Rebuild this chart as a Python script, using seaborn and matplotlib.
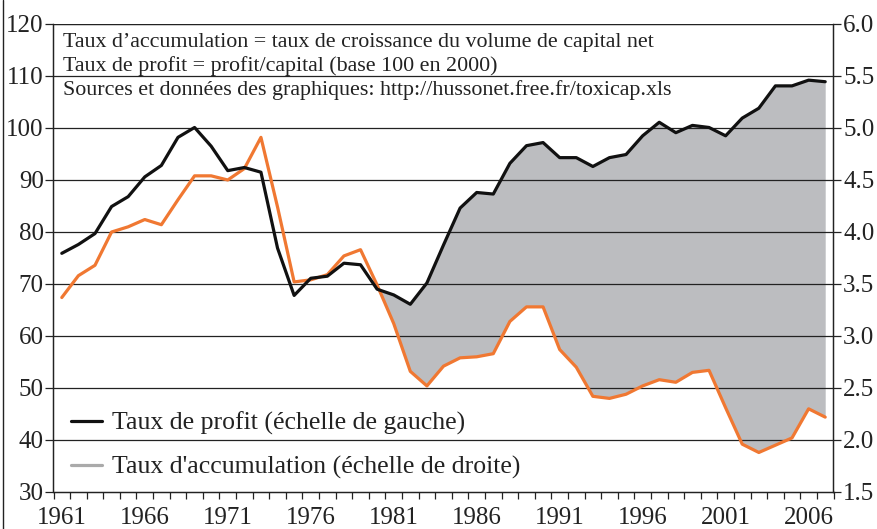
import numpy as np
import pandas as pd
import matplotlib
matplotlib.use("Agg")
import matplotlib.pyplot as plt
from matplotlib.lines import Line2D
import seaborn as sns

years = list(range(1961, 2008))

# taux de profit (base 100 en 2000), echelle de gauche
profit = [75.9, 77.6, 79.7, 84.9, 86.8, 90.6, 92.8, 98.2, 100.1, 96.5,
          91.8, 92.4, 91.5, 76.9, 67.8, 71.1, 71.5, 74.0, 73.7, 69.0,
          67.9, 66.1, 70.2, 77.5, 84.6, 87.6, 87.3, 93.2, 96.6, 97.2,
          94.3, 94.3, 92.6, 94.3, 94.9, 98.5, 101.1, 99.1, 100.5, 100.1,
          98.5, 101.9, 103.8, 108.1, 108.1, 109.2, 108.9]

# taux d'accumulation (%), echelle de droite
accum = [3.37, 3.58, 3.68, 4.00, 4.05, 4.12, 4.07, 4.31, 4.54, 4.54,
         4.50, 4.61, 4.91, 4.24, 3.52, 3.54, 3.59, 3.77, 3.83, 3.49,
         3.12, 2.66, 2.52, 2.71, 2.79, 2.80, 2.83, 3.14, 3.28, 3.28,
         2.87, 2.70, 2.42, 2.40, 2.44, 2.52, 2.58, 2.555, 2.65, 2.67,
         2.31, 1.96, 1.88, 1.95, 2.02, 2.30, 2.22]

left_ticks = [30, 40, 50, 60, 70, 80, 90, 100, 110, 120]
right_ticks = [1.5, 2.0, 2.5, 3.0, 3.5, 4.0, 4.5, 5.0, 5.5, 6.0]
year_labels = ["1961", "1966", "1971", "1976", "1981", "1986", "1991", "1996", "2001", "2006"]

notes = ["Taux d\u2019accumulation = taux de croissance du volume de capital net",
         "Taux de profit = profit/capital (base 100 en 2000)",
         "Sources et donn\u00e9es des graphiques: http://hussonet.free.fr/toxicap.xls"]

df = pd.DataFrame({"pos": np.arange(len(years)), "annee": years,
                   "profit": profit, "accum": accum})

sns.set_theme(style="white")
plt.rcParams["font.family"] = ["Liberation Serif", "DejaVu Serif"]

orange = "#F07832"
fill_grey = "#BCBDC0"
ink = "#222222"

fig = plt.figure(figsize=(8.78, 5.29), dpi=100)
ax = fig.add_axes([53.5 / 878, 1 - 492 / 529, (833.5 - 53.5) / 878, (492 - 24) / 529])
ax2 = ax.twinx()

# zone grise entre les deux courbes a partir de 1980 (profit converti sur l'echelle de droite)
profit_right = 1.5 + (df["profit"] - 30) / 20
mask = df["annee"] >= 1980
ax2.fill_between(df["pos"][mask], profit_right[mask], df["accum"][mask],
                 color=fill_grey, lw=0, zorder=1)

for t in right_ticks[1:]:
    ax2.axhline(t, color=ink, lw=0.9, zorder=2)

sns.lineplot(data=df, x="pos", y="accum", ax=ax2, color=orange, lw=2.3, zorder=3)
sns.lineplot(data=df, x="pos", y="profit", ax=ax, color="#111111", lw=2.3, zorder=3)

ax.set_xlim(-0.5, len(years) - 0.5)
ax.set_ylim(30, 120)
ax2.set_ylim(1.5, 6.0)

ax.set_xticks([years.index(int(y)) for y in year_labels])
ax.set_xticklabels(year_labels)
ax.set_xticks(np.arange(-0.5, len(years)), minor=True)
ax.tick_params(axis="x", which="major", length=0, pad=11, labelsize=18, labelcolor=ink)
ax.tick_params(axis="x", which="minor", length=5, width=0.9, color=ink,
               direction="out", bottom=True)

ax.set_yticks(left_ticks)
ax.tick_params(axis="y", length=6, width=0.9, color=ink, direction="out",
               labelsize=18, pad=1, left=True, labelcolor=ink)
ax2.set_yticks(right_ticks)
ax2.set_yticklabels([f"{t:.1f}" for t in right_ticks])
ax2.tick_params(axis="y", length=6, width=0.9, color=ink, direction="out",
                labelsize=18, pad=1, right=True, labelcolor=ink)

for a in (ax, ax2):
    a.set_xlabel("")
    a.set_ylabel("")
    a.spines["top"].set_visible(False)
    for s in ("left", "right", "bottom"):
        a.spines[s].set_color(ink)
        a.spines[s].set_linewidth(0.9)
ax.axhline(120, color=ink, lw=0.9, zorder=2)
ax.set_zorder(ax2.get_zorder() + 1)
ax.patch.set_visible(False)

for i, line in enumerate(notes):
    ax.text(0.012, 0.9605 - i * 0.0505, line, transform=ax.transAxes,
            fontsize=15.8, color=ink, va="center", ha="left", zorder=5)

handles = [Line2D([0], [0], color="#111111", lw=2.3),
           Line2D([0], [0], color="#AAAAAA", lw=2.3)]
ax.legend(handles, ["Taux de profit (\u00e9chelle de gauche)",
                    "Taux d'accumulation (\u00e9chelle de droite)"],
          loc="lower left", bbox_to_anchor=(0.003, -0.006), frameon=False,
          fontsize=18.5, handlelength=1.2, handletextpad=0.4, labelspacing=0.8,
          borderaxespad=0.2, labelcolor=ink)

fig.add_artist(Line2D([3 / 878, 3 / 878], [0, 1], color=ink, lw=1.0))

fig.savefig("out.png", dpi=100)
